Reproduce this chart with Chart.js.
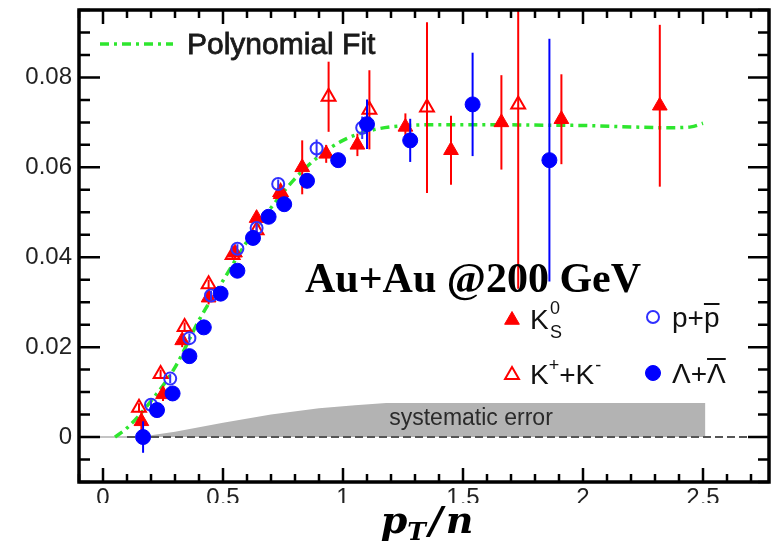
<!DOCTYPE html>
<html>
<head>
<meta charset="utf-8">
<script src="https://cdn.jsdelivr.net/npm/chart.js@4.4.1/dist/chart.umd.min.js"></script>
<style>
  html,body{margin:0;padding:0;background:#fff;}
  #wrap{width:781px;height:550px;position:relative;}
</style>
</head>
<body>
<div id="wrap"><canvas id="c" width="781" height="550"></canvas></div>
<script>
// ----- data -----
const k0sX   = [0.16,0.25,0.33,0.44,0.55,0.64,0.74,0.83,0.93,1.06,1.26,1.45,1.66,1.91,2.32];
const k0sY   = [0.0035,0.0095,0.0215,0.031,0.041,0.0487,0.054,0.060,0.063,0.065,0.069,0.0638,0.070,0.0707,0.0737];
const k0sErr = [0.002,0.0015,0.0015,0.0015,0.0015,0.0015,0.0015,0.006,0.002,0.0025,0.003,0.0077,0.0105,0.010,0.018];

const kchX   = [0.15,0.24,0.34,0.44,0.54,0.64,0.74,0.94,1.11,1.35,1.73];
const kchY   = [0.0065,0.014,0.0245,0.034,0.0405,0.046,0.0545,0.0757,0.0728,0.0733,0.074];
const kchErr = [0.001,0.001,0.001,0.001,0.001,0.001,0.001,0.0078,0.0088,0.019,0.041];

const pX     = [0.20,0.28,0.36,0.45,0.56,0.64,0.73,0.89,1.08];
const pY     = [0.0072,0.013,0.022,0.0315,0.0419,0.0465,0.0563,0.0642,0.0688];
const pErr   = [0.001,0.001,0.001,0.001,0.001,0.001,0.001,0.002,0.0025];

const lamX   = [0.167,0.225,0.29,0.36,0.42,0.49,0.56,0.625,0.69,0.755,0.85,0.98,1.10,1.28,1.54,1.86];
const lamY   = [0.0,0.006,0.0097,0.018,0.0244,0.0319,0.037,0.0443,0.049,0.0518,0.057,0.0616,0.0696,0.066,0.074,0.0616];
const lamErr = [0.0035,0.001,0.001,0.001,0.001,0.001,0.001,0.001,0.001,0.001,0.0015,0.0015,0.0055,0.0048,0.0115,0.027];

const fitX = [0.05,0.1,0.2,0.3,0.4,0.5,0.6,0.7,0.8,0.9,1.0,1.1,1.2,1.4,1.6,1.8,2.0,2.2,2.35,2.45,2.5];
const fitY = [0.0,0.002,0.008,0.0155,0.026,0.0348,0.0435,0.051,0.0575,0.0625,0.066,0.068,0.069,0.0695,0.0695,0.0694,0.0693,0.069,0.0688,0.069,0.0698];

const sysX = [0.15,0.3,0.5,0.7,0.9,1.05,1.18,2.51,2.51];
const sysY = [0.0,0.0012,0.0032,0.0050,0.0064,0.0071,0.0076,0.0076,0.0];

const zeroSolidX = [-0.1,0.1];
const zeroDashX  = [0.1,2.775];

const xTickVals = [0,0.5,1,1.5,2,2.5];
const xTickText = ['0','0.5','1','1.5','2','2.5'];
const yTickVals = [0,0.02,0.04,0.06,0.08];
const yTickText = ['0','0.02','0.04','0.06','0.08'];

// ----- helpers -----
const RED = '#ff0000', BLUE = '#0000ff', OPENBLUE = '#3030ff', GREEN = '#2ee62e';
const pts = (xs, ys) => xs.map((x,i)=>({x, y: ys[i]}));
const flat = (xs, v) => xs.map(x=>({x, y: v}));

const errorBars = {
  id: 'errorBars',
  beforeDatasetDraw(chart, args){
    const ds = chart.data.datasets[args.index];
    if(!ds.errY) return;
    const {ctx, chartArea:a, scales:{x, y}} = chart;
    ctx.save();
    ctx.beginPath(); ctx.rect(a.left, a.top, a.right-a.left, a.bottom-a.top); ctx.clip();
    ctx.strokeStyle = ds.errColor; ctx.lineWidth = 2;
    ds.data.forEach((p,i)=>{
      const e = ds.errY[i], px = x.getPixelForValue(p.x);
      ctx.beginPath();
      ctx.moveTo(px, y.getPixelForValue(p.y - e));
      ctx.lineTo(px, y.getPixelForValue(p.y + e));
      ctx.stroke();
    });
    ctx.restore();
  }
};

function marker(ctx, style, x, y){
  ctx.save();
  ctx.beginPath();
  if(style.shape === 'triangle'){
    const r = style.r;
    ctx.moveTo(x, y - r);
    ctx.lineTo(x + r*Math.sin(2*Math.PI/3), y - r*Math.cos(2*Math.PI/3));
    ctx.lineTo(x - r*Math.sin(2*Math.PI/3), y - r*Math.cos(2*Math.PI/3));
    ctx.closePath();
  } else {
    ctx.arc(x, y, style.r, 0, Math.PI*2);
  }
  if(style.fill){ ctx.fillStyle = style.fill; ctx.fill(); }
  ctx.lineWidth = style.lw; ctx.strokeStyle = style.stroke; ctx.stroke();
  ctx.restore();
}

const frameAndText = {
  id: 'frameAndText',
  afterDraw(chart){
    const {ctx, chartArea:a, scales:{x, y}} = chart;
    ctx.save();
    // ticks, pointing inward
    ctx.strokeStyle = '#000'; ctx.lineWidth = 2.5;
    for(let i=-1;i<=27;i++){
      const v = i/10, px = x.getPixelForValue(v);
      const major = i % 5 === 0;
      const L = major ? 14 : 8;
      ctx.beginPath();
      ctx.moveTo(px, a.bottom); ctx.lineTo(px, a.bottom - L);
      ctx.moveTo(px, a.top);    ctx.lineTo(px, a.top + L);
      ctx.stroke();
    }
    for(let i=-2;i<=19;i++){
      const v = i*0.005, py = y.getPixelForValue(v);
      const major = i % 4 === 0;
      const L = major ? 21 : 11;
      ctx.beginPath();
      ctx.moveTo(a.left, py);  ctx.lineTo(a.left + L, py);
      ctx.moveTo(a.right, py); ctx.lineTo(a.right - L, py);
      ctx.stroke();
    }
    ctx.lineWidth = 3.5;
    ctx.strokeRect(a.left, a.top, a.right - a.left, a.bottom - a.top);

    // bottom cover, cutting the tick labels
    ctx.fillStyle = '#fff';
    ctx.fillRect(0, 503, chart.width, chart.height - 503);

    // systematic error label
    ctx.fillStyle = '#2a2a2a';
    ctx.font = '23px "Liberation Sans", Arial, sans-serif';
    ctx.textAlign = 'center'; ctx.textBaseline = 'alphabetic';
    ctx.fillText('systematic error', 471, 425);

    // fit legend
    ctx.strokeStyle = GREEN; ctx.lineWidth = 3.5; ctx.setLineDash([9,5,3,5]);
    ctx.beginPath(); ctx.moveTo(100, 44); ctx.lineTo(173, 44); ctx.stroke();
    ctx.setLineDash([]);
    ctx.fillStyle = '#1a1a1a'; ctx.strokeStyle = '#1a1a1a'; ctx.lineWidth = 0.8; ctx.textAlign = 'left';
    ctx.font = '30px "Liberation Sans", Arial, sans-serif';
    ctx.fillText('Polynomial Fit', 187, 54);
    ctx.strokeText('Polynomial Fit', 187, 54);

    // collision system
    ctx.fillStyle = '#000';
    ctx.font = 'bold 42px "Liberation Serif", "Times New Roman", serif';
    ctx.fillText('Au+Au @200 GeV', 305, 292);

    // particle legend
    const ds = chart.data.datasets;
    const big = '28px "Liberation Sans", Arial, sans-serif';
    const small = '18px "Liberation Sans", Arial, sans-serif';
    ctx.fillStyle = '#111';
    marker(ctx, ds[3].mk, 512, 320);
    ctx.font = big; ctx.fillText('K', 530, 329);
    ctx.font = small; ctx.fillText('0', 550, 314); ctx.fillText('S', 550, 338);

    marker(ctx, ds[2].mk, 512, 375);
    ctx.font = big; ctx.fillText('K', 530, 384);
    let w = ctx.measureText('K').width;
    ctx.font = small; ctx.fillText('+', 530 + w, 371);
    let w2 = ctx.measureText('+').width;
    ctx.font = big; ctx.fillText('+K', 530 + w + w2, 384);
    let w3 = ctx.measureText('+K').width;
    ctx.font = small; ctx.fillText('-', 531 + w + w2 + w3, 371);

    marker(ctx, ds[1].mk, 653, 317);
    ctx.font = big; ctx.fillText('p+p', 672, 327);
    let wp = ctx.measureText('p+').width, wq = ctx.measureText('p').width;
    ctx.lineWidth = 2; ctx.strokeStyle = '#111';
    ctx.beginPath(); ctx.moveTo(672 + wp, 304); ctx.lineTo(672 + wp + wq, 304); ctx.stroke();

    marker(ctx, ds[0].mk, 653, 373);
    ctx.fillText('\u039B+\u039B', 672, 383);
    let wl = ctx.measureText('\u039B+').width, wm = ctx.measureText('\u039B').width;
    ctx.beginPath(); ctx.moveTo(672 + wl, 359); ctx.lineTo(672 + wl + wm, 359); ctx.stroke();

    // axis title p_T/n
    ctx.fillStyle = '#000';
    const tf = 'bold italic 38px "DejaVu Serif", serif', sf = 'bold italic 25px "DejaVu Serif", serif';
    ctx.font = tf; const wP = ctx.measureText('p').width, wS = ctx.measureText('/').width, wN = ctx.measureText('n').width;
    ctx.font = sf; const wT = ctx.measureText('T').width;
    const total = wP + wT + wS + wN + 6;
    let cx = 427 - total/2;
    ctx.font = tf; ctx.fillText('p', cx, 533); cx += wP;
    ctx.font = sf; ctx.fillText('T', cx, 540); cx += wT + 3;
    ctx.font = tf; ctx.fillText('/', cx, 533); cx += wS + 3;
    ctx.fillText('n', cx, 533);
    ctx.restore();
  }
};

const mkLam = {shape:'circle', r:7.5, fill:BLUE, stroke:BLUE, lw:1};
const mkP   = {shape:'circle', r:6, fill:null, stroke:OPENBLUE, lw:2};
const mkKch = {shape:'triangle', r:8, fill:null, stroke:RED, lw:2};
const mkK0s = {shape:'triangle', r:8.5, fill:RED, stroke:RED, lw:1};

new Chart(document.getElementById('c'), {
  type: 'scatter',
  data: {
    datasets: [
      {data: pts(lamX, lamY), errY: lamErr, errColor: BLUE, mk: mkLam,
       pointStyle:'circle', pointRadius:7.5, backgroundColor:BLUE, borderColor:BLUE, borderWidth:1},
      {data: pts(pX, pY), errY: pErr, errColor: OPENBLUE, mk: mkP,
       pointStyle:'circle', pointRadius:6, backgroundColor:'rgba(0,0,0,0)', borderColor:OPENBLUE, borderWidth:2},
      {data: pts(kchX, kchY), errY: kchErr, errColor: RED, mk: mkKch,
       pointStyle:'triangle', pointRadius:8, backgroundColor:'rgba(0,0,0,0)', borderColor:RED, borderWidth:2},
      {data: pts(k0sX, k0sY), errY: k0sErr, errColor: RED, mk: mkK0s,
       pointStyle:'triangle', pointRadius:8.5, backgroundColor:RED, borderColor:RED, borderWidth:1},
      {type:'line', data: pts(fitX, fitY), borderColor:GREEN, borderWidth:3.5, borderDash:[9,5,3,5],
       pointRadius:0, tension:0.3, cubicInterpolationMode:'monotone', fill:false},
      {type:'line', data: flat(zeroDashX, 0), borderColor:'#555', borderWidth:2, borderDash:[8,4], pointRadius:0, fill:false},
      {type:'line', data: flat(zeroSolidX, 0), borderColor:'#c4c4c4', borderWidth:2, pointRadius:0, fill:false},
      {type:'line', data: pts(sysX, sysY), borderWidth:0, borderColor:'rgba(0,0,0,0)', backgroundColor:'#b3b3b3',
       fill:'origin', pointRadius:0, tension:0}
    ]
  },
  options: {
    responsive:false, animation:false, events:[],
    layout:{padding:{top:8, right:12, left:0, bottom:0}},
    plugins:{legend:{display:false}, tooltip:{enabled:false}},
    scales:{
      x:{type:'linear', min:-0.1, max:2.775,
         afterBuildTicks(s){ s.ticks = xTickVals.map(v=>({value:v})); },
         afterFit(s){ s.height = 68; s.paddingLeft = 0; s.paddingRight = 0; },
         grid:{display:false, drawTicks:false}, border:{display:false},
         ticks:{padding:2, color:'#222', font:{family:'"Liberation Sans", Arial, sans-serif', size:24},
                callback:(v,i)=>xTickText[i]}},
      y:{type:'linear', min:-0.01, max:0.095,
         afterBuildTicks(s){ s.ticks = yTickVals.map(v=>({value:v})); },
         afterFit(s){ s.width = 79; s.paddingTop = 0; s.paddingBottom = 0; },
         grid:{display:false, drawTicks:false}, border:{display:false},
         ticks:{padding:7, color:'#222', font:{family:'"Liberation Sans", Arial, sans-serif', size:24},
                callback:(v,i)=>yTickText[i]}}
    }
  },
  plugins:[errorBars, frameAndText]
});
</script>
</body>
</html>
